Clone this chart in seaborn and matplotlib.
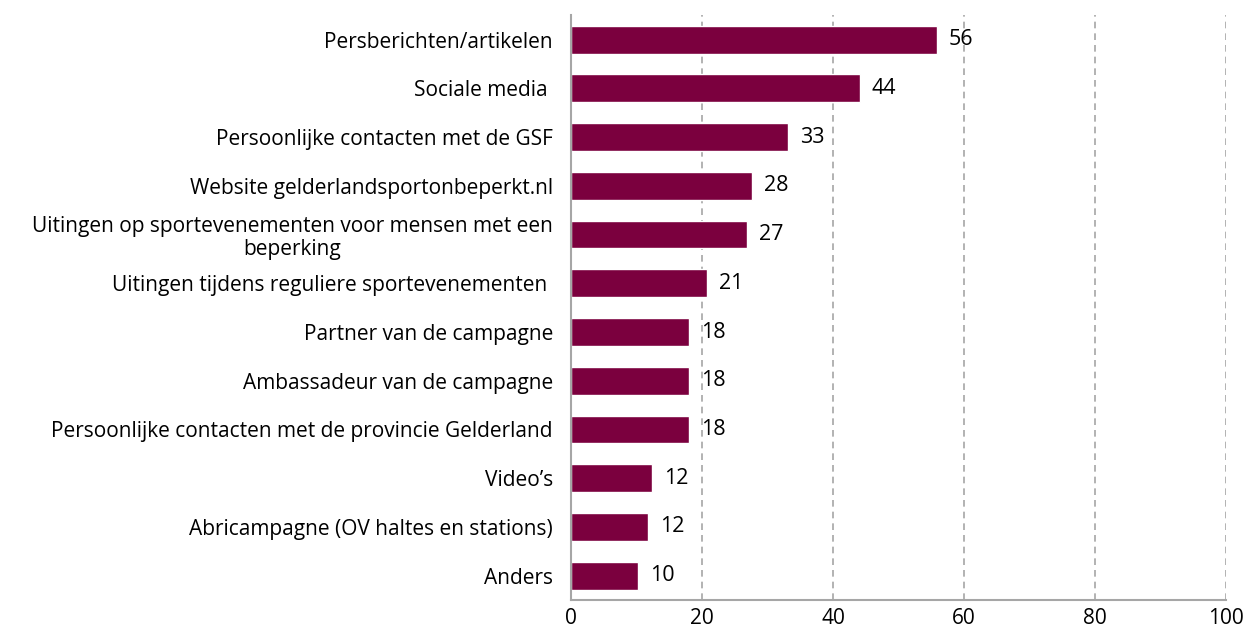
import pandas as pd
import seaborn as sns
import matplotlib.pyplot as plt

categories = [
    'Persberichten/artikelen',
    'Sociale media ',
    'Persoonlijke contacten met de GSF',
    'Website gelderlandsportonbeperkt.nl',
    'Uitingen op sportevenementen voor mensen met een\nbeperking',
    'Uitingen tijdens reguliere sportevenementen ',
    'Partner van de campagne',
    'Ambassadeur van de campagne',
    'Persoonlijke contacten met de provincie Gelderland',
    'Video\u2019s',
    'Abricampagne (OV haltes en stations)',
    'Anders',
]
values = [55.9, 44.1, 33.1, 27.6, 26.9, 20.8, 18.0, 18.0, 18.0, 12.4, 11.8, 10.2]
value_labels = ['56', '44', '33', '28', '27', '21', '18', '18', '18', '12', '12', '10']

df = pd.DataFrame({'categorie': categories, 'waarde': values})

sns.set_style('white')
plt.rcParams['font.family'] = ['Open Sans', 'DejaVu Sans']
plt.rcParams['text.color'] = 'black'

fig = plt.figure(figsize=(12.55, 6.37), dpi=100)
ax = fig.add_axes([0.455, 0.058, 0.522, 0.918])

sns.barplot(data=df, x='waarde', y='categorie', color='#7b003e', width=0.57,
            saturation=1, ax=ax)

ax.set_xlim(0, 100)
ax.set_ylim(len(categories) - 0.5, -0.5)
ax.set_xticks([0, 20, 40, 60, 80, 100])
ax.tick_params(axis='x', labelsize=15, length=0, pad=6, labelcolor='black')
ax.tick_params(axis='y', labelsize=15, length=0, pad=13, labelcolor='black')
for lbl in ax.get_yticklabels():
    lbl.set_multialignment('center')
    lbl.set_linespacing(1.1)
ax.set_xlabel('')
ax.set_ylabel('')

# Dashed vertical gridlines
for x in [20, 40, 60, 80, 100]:
    ax.axvline(x, color='#a6a6a6', linestyle=(0, (4, 3)), linewidth=1.2, zorder=0)

for side in ['top', 'right']:
    ax.spines[side].set_visible(False)
ax.spines['left'].set_color('#a6a6a6')
ax.spines['bottom'].set_color('#a6a6a6')
ax.spines['left'].set_linewidth(1.5)
ax.spines['bottom'].set_linewidth(1.5)

# Value labels
for i, (v, t) in enumerate(zip(values, value_labels)):
    ax.text(v + 1.8, i, t, va='center', ha='left', fontsize=15.5)

plt.savefig('out.png', dpi=100)
